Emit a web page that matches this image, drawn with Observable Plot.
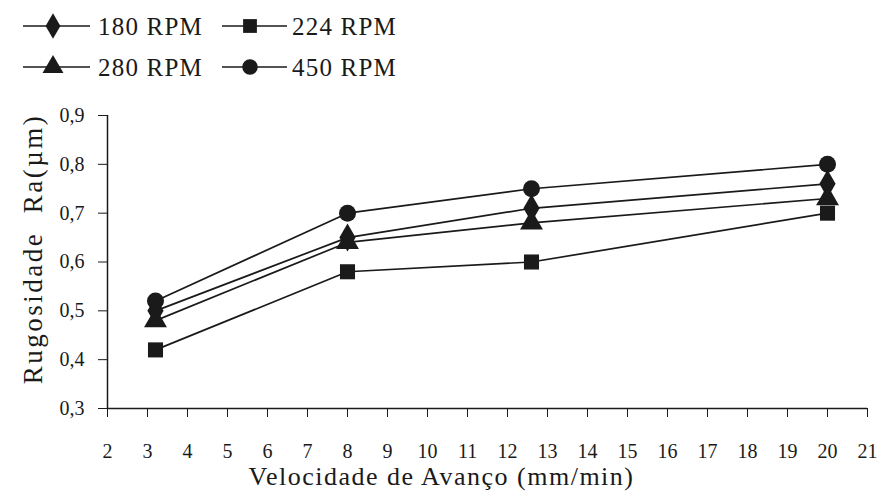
<!DOCTYPE html>
<html>
<head>
<meta charset="utf-8">
<script src="https://cdn.jsdelivr.net/npm/d3@7"></script>
<script src="https://cdn.jsdelivr.net/npm/@observablehq/plot@0.6"></script>
<style>
  body { margin: 0; background: white; }
  #wrap { width: 883px; background: white; font-family: "Liberation Serif", "DejaVu Serif", serif; }
</style>
</head>
<body>
<div id="wrap"><div id="legend"></div><div id="chart"></div></div>
<script>
const speeds = [3.2, 8, 12.6, 20];
const seriesNames = ["180 RPM", "224 RPM", "280 RPM", "450 RPM"];
const rpm180 = [0.50, 0.65, 0.71, 0.76];
const rpm224 = [0.42, 0.58, 0.60, 0.70];
const rpm280 = [0.48, 0.64, 0.68, 0.73];
const rpm450 = [0.52, 0.70, 0.75, 0.80];
const symbolNames = ["diamond", "square", "triangle", "circle"];
const xTicks = [2, 3, 4, 5, 6, 7, 8, 9, 10, 11, 12, 13, 14, 15, 16, 17, 18, 19, 20, 21];
const yTicks = [0.3, 0.4, 0.5, 0.6, 0.7, 0.8, 0.9];
const xLabel = "Velocidade de Avanço (mm/min)";
const yLabel = "Rugosidade  Ra(µm)";

const allValues = [rpm180, rpm224, rpm280, rpm450];
const data = [];
seriesNames.forEach((s, i) => {
  speeds.forEach((v, j) => data.push({series: s, speed: v, ra: allValues[i][j]}));
});

const ink = "#1a1a1a";
const font = "Liberation Serif, DejaVu Serif, serif";

// Legend (above the chart)
const d3symbols = {diamond: d3.symbolDiamond, square: d3.symbolSquare, triangle: d3.symbolTriangle, circle: d3.symbolCircle};
const lg = d3.select("#legend").append("svg").attr("width", 883).attr("height", 90).style("display", "block");
const cols = [{l0: 23, l1: 90, s: 53, t: 98}, {l0: 222, l1: 287, s: 250, t: 292}];
const rows = [26, 67];
seriesNames.forEach((name, i) => {
  const c = cols[i % 2], yy = rows[Math.floor(i / 2)];
  const g = lg.append("g");
  g.append("line").attr("x1", c.l0).attr("x2", c.l1).attr("y1", yy).attr("y2", yy)
    .attr("stroke", ink).attr("stroke-width", 1.7);
  g.append("path").attr("d", d3.symbol(d3symbols[symbolNames[i]], 190)())
    .attr("transform", `translate(${c.s},${yy})`).attr("fill", ink);
  g.append("text").attr("x", c.t).attr("y", yy).attr("dy", "0.35em")
    .attr("font-family", font).attr("font-size", 25).attr("letter-spacing", "1.2px")
    .attr("fill", ink).text(name);
});

const chart = Plot.plot({
  width: 883,
  height: 406,
  marginLeft: 107,
  marginRight: 16,
  marginTop: 25,
  marginBottom: 88,
  style: {fontFamily: font, fontSize: "20px", color: ink, background: "white"},
  x: {domain: [2, 21]},
  y: {domain: [0.3, 0.9]},
  symbol: {domain: seriesNames, range: symbolNames},
  marks: [
    Plot.axisX({ticks: xTicks, tickSize: 9, tickPadding: 26, label: null, tickFormat: d => String(d)}),
    Plot.axisY({ticks: yTicks, tickSize: 9, tickPadding: 14, label: null, tickFormat: d => d.toFixed(1).replace(".", ",")}),
    Plot.ruleY([0.3], {stroke: ink, strokeWidth: 1.5}),
    Plot.ruleX([2], {stroke: ink, strokeWidth: 1.5}),
    Plot.line(data, {x: "speed", y: "ra", z: "series", stroke: ink, strokeWidth: 1.7}),
    Plot.dot(data, {x: "speed", y: "ra", symbol: "series", fill: ink, stroke: "none", r: 8.5}),
    Plot.text([xLabel], {frameAnchor: "bottom", textAnchor: "middle", dx: -46, dy: 76, fontSize: 26, fill: ink}),
    Plot.text([yLabel], {frameAnchor: "left", textAnchor: "middle", dx: -74, dy: -13, rotate: -90, fontSize: 27, fill: ink})
  ]
});
const labels = d3.select(chart).selectAll('g[aria-label="text"] text');
labels.attr("letter-spacing", "1.5px");
d3.select(labels.nodes()[1]).attr("letter-spacing", "2.5px");
document.getElementById("chart").appendChild(chart);
</script>
</body>
</html>
